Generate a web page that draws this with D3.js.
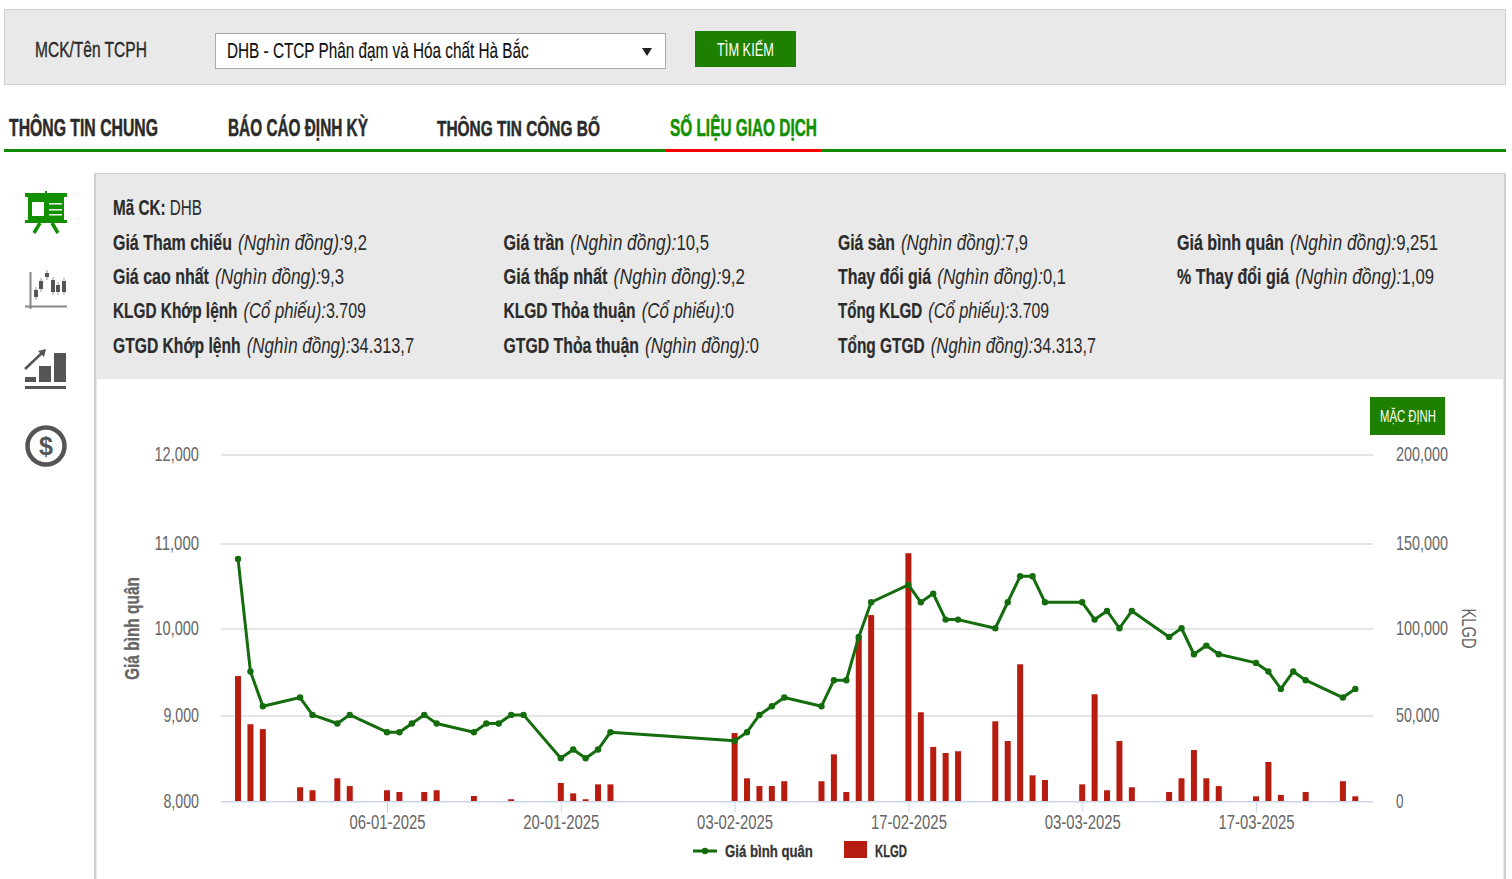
<!DOCTYPE html>
<html>
<head>
<meta charset="utf-8">
<title>DHB</title>
<script src="https://cdn.jsdelivr.net/npm/d3@7"></script>
<style>
  html, body { margin: 0; padding: 0; background: #fff; overflow: hidden; }
  svg { display: block; }
  text { font-family: "Liberation Sans Narrow", "Liberation Sans", Roboto, sans-serif; }
</style>
</head>
<body>
<svg id="page" width="1512" height="879"></svg>
<script>
const dates = [
  "25-12-2024","26-12-2024","27-12-2024","30-12-2024","31-12-2024","02-01-2025","03-01-2025",
  "06-01-2025","07-01-2025","08-01-2025","09-01-2025","10-01-2025","13-01-2025","14-01-2025",
  "15-01-2025","16-01-2025","17-01-2025","20-01-2025","21-01-2025","22-01-2025","23-01-2025",
  "24-01-2025","03-02-2025","04-02-2025","05-02-2025","06-02-2025","07-02-2025","10-02-2025",
  "11-02-2025","12-02-2025","13-02-2025","14-02-2025","17-02-2025","18-02-2025","19-02-2025",
  "20-02-2025","21-02-2025","24-02-2025","25-02-2025","26-02-2025","27-02-2025","28-02-2025",
  "03-03-2025","04-03-2025","05-03-2025","06-03-2025","07-03-2025","10-03-2025","11-03-2025",
  "12-03-2025","13-03-2025","14-03-2025","17-03-2025","18-03-2025","19-03-2025","20-03-2025",
  "21-03-2025","24-03-2025","25-03-2025"
];
const prices = [
  10800,9500,9100,9200,9000,8900,9000,
  8800,8800,8900,9000,8900,8800,8900,
  8900,9000,9000,8500,8600,8500,8600,
  8800,8700,8800,9000,9100,9200,9100,
  9400,9400,9900,10300,10500,10300,10400,
  10100,10100,10000,10300,10600,10600,10300,
  10300,10100,10200,10000,10200,9900,10000,
  9700,9800,9700,9600,9500,9300,9500,
  9400,9200,9300
];
const volumes = [
  72400,44600,41800,8200,6500,13400,8900,
  6500,5500,0,5500,6500,3200,0,
  0,1300,0,10700,4700,1300,9900,
  9900,39500,13400,8900,8900,11700,11700,
  27200,5500,94800,107600,143300,51500,31500,
  28000,29000,46300,34900,79200,15100,12400,
  9900,61900,6500,34900,8200,5500,13400,
  29700,13400,8900,3000,22800,3800,0,
  5500,11700,3000
];
const xTicks = ["06-01-2025","20-01-2025","03-02-2025","17-02-2025","03-03-2025","17-03-2025"];
const priceTicks = [8000,9000,10000,11000,12000];
const volumeTicks = [0,50000,100000,150000,200000];

const tabs = ["THÔNG TIN CHUNG","BÁO CÁO ĐỊNH KỲ","THÔNG TIN CÔNG BỐ","SỐ LIỆU GIAO DỊCH"];
const infoLabels = [
  ["Giá Tham chiếu","Giá cao nhất","KLGD Khớp lệnh","GTGD Khớp lệnh"],
  ["Giá trần","Giá thấp nhất","KLGD Thỏa thuận","GTGD Thỏa thuận"],
  ["Giá sàn","Thay đổi giá","Tổng KLGD","Tổng GTGD"],
  ["Giá bình quân","% Thay đổi giá"]
];
const infoUnits = [
  ["(Nghìn đồng):","(Nghìn đồng):","(Cổ phiếu):","(Nghìn đồng):"],
  ["(Nghìn đồng):","(Nghìn đồng):","(Cổ phiếu):","(Nghìn đồng):"],
  ["(Nghìn đồng):","(Nghìn đồng):","(Cổ phiếu):","(Nghìn đồng):"],
  ["(Nghìn đồng):","(Nghìn đồng):"]
];
const infoValues = [
  ["9,2","9,3","3.709","34.313,7"],
  ["10,5","9,2","0","0"],
  ["7,9","0,1","3.709","34.313,7"],
  ["9,251","1,09"]
];

// layout
const infoX = [113,503.5,838,1177];
const infoRowY = [250,284,318,353];
const infoEnd = [[367,344,366,414],[709,745,734,759],[1028,1066,1049,1096],[1438,1434]];
const tabX = [[9,158],[228,368],[437,600],[670,817]];
const plotLeft = 221, plotRight = 1373;
const gridY = [801.7,716,629,544,455];

const green = "#1e8000", line = "#146c0c", bar = "#b71c10", ink = "#2b2b2b", axisInk = "#666";

const svg = d3.select("#page");

// squeeze a text to run from x to x2, the site font is a condensed one
function fit(sel, x, y, x2) {
  const w = sel.node().getComputedTextLength();
  sel.attr("transform", `translate(${x},${y}) scale(${(x2 - x) / w},1)`);
  return sel;
}
function label(str, x, y, x2, size, fill, weight, heavy) {
  const t = svg.append("text").text(str)
    .attr("font-size", size).attr("fill", fill).attr("font-weight", weight || "normal");
  if (heavy) t.attr("stroke", fill).attr("stroke-width", heavy);
  return fit(t, x, y, x2);
}
function box(x, y, w, h, fill, stroke) {
  return svg.append("rect").attr("x", x).attr("y", y).attr("width", w).attr("height", h)
    .attr("fill", fill).attr("stroke", stroke || "none");
}
// bold label, italic unit and value side by side, bold runs narrower than italic on the site
function infoRow(name, unit, value, x, y, x2) {
  const gap = 6;
  const parts = [
    { str: name, weight: "bold", style: "normal", rel: 0.96, heavy: 0.2 },
    { str: unit, weight: "normal", style: "italic", rel: 1.04, heavy: 0 },
    { str: value, weight: "normal", style: "normal", rel: 1, heavy: 0 }
  ];
  parts.forEach(p => {
    p.el = svg.append("text").text(p.str).attr("font-size", 22).attr("fill", ink)
      .attr("font-weight", p.weight).attr("font-style", p.style);
    if (p.heavy) p.el.attr("stroke", ink).attr("stroke-width", p.heavy);
    p.w = p.el.node().getComputedTextLength();
  });
  const k = (x2 - x - gap) / d3.sum(parts, p => p.w * p.rel);
  let cx = x;
  parts.forEach((p, i) => {
    p.el.attr("transform", `translate(${cx},${y}) scale(${k * p.rel},1)`);
    cx += p.w * p.rel * k + (i === 0 ? gap : 0);
  });
}

// search bar
box(4.5, 9.5, 1501, 75, "#e9e9e9", "#cfcfcf");
label("MCK/Tên TCPH", 35, 57, 147, 22, ink, "normal", 0.4);
box(215.5, 33.5, 450, 35, "#fff", "#aaa");
label("DHB - CTCP Phân đạm và Hóa chất Hà Bắc", 227, 58, 529, 22, "#111", "normal", 0.15);
svg.append("path").attr("d", "M642,48h10l-5,8z").attr("fill", "#222");
box(695, 31, 101, 36, green);
label("TÌM KIẾM", 717, 56, 774, 18, "#fff");

// tabs
tabs.forEach((t, i) => {
  const c = i === 3 ? "#129000" : ink;
  label(t, tabX[i][0], 136, tabX[i][1], 23, c, "bold", 0.5);
});
box(4, 149, 1502, 3, "#128a00");
box(666, 149, 155, 3, "#f00");

// info panel
box(94, 173, 1411, 706, "#e9e9e9");
box(94, 173, 1411, 1, "#d0d0d0");
box(94, 173, 2, 706, "#cfcfcf");
box(1504, 173, 2, 706, "#cfcfcf");
box(97, 379, 1406, 500, "#fff");

const maCk = svg.append("text").attr("font-size", 22).attr("fill", ink);
maCk.append("tspan").attr("font-weight", "bold").attr("stroke", ink).attr("stroke-width", 0.2).text("Mã CK: ");
maCk.append("tspan").text("DHB");
fit(maCk, 113, 215, 202);

infoLabels.forEach((col, c) => col.forEach((name, r) => {
  infoRow(name, infoUnits[c][r], infoValues[c][r], infoX[c], infoRowY[r], infoEnd[c][r]);
}));

// side icons
const icons = svg.append("g");
const i1 = icons.append("g").attr("fill", "#129000").attr("stroke", "none");
i1.append("rect").attr("x", 25).attr("y", 193).attr("width", 42).attr("height", 4);
i1.append("rect").attr("x", 45).attr("y", 191).attr("width", 2).attr("height", 3);
i1.append("rect").attr("x", 28).attr("y", 197).attr("width", 36).attr("height", 23);
i1.append("rect").attr("x", 25).attr("y", 220).attr("width", 42).attr("height", 3);
i1.append("rect").attr("x", 32).attr("y", 202).attr("width", 12).attr("height", 14).attr("fill", "#fff");
[203,209,214].forEach(y => i1.append("rect").attr("x", 49).attr("y", y).attr("width", 13).attr("height", 1.6).attr("fill", "#dff0dc"));
i1.append("path").attr("d", "M40,223L34,233M52,223L58,233").attr("stroke", "#129000").attr("stroke-width", 3.5);

const i2 = icons.append("g").attr("stroke", "#888").attr("fill", "none");
i2.append("path").attr("d", "M30.5,272V309M25,306.5H67").attr("stroke-width", 2);
[[36,287,300],[41,278,292],[47,270,280],[53,277,295],[58,282,295],[64,278,295]].forEach(c => {
  i2.append("line").attr("x1", c[0]).attr("x2", c[0]).attr("y1", c[1]).attr("y2", c[2]).attr("stroke", "#aaa").attr("stroke-width", 1.2);
  i2.append("rect").attr("x", c[0] - 2).attr("y", c[1] + 3).attr("width", 4).attr("height", Math.max(c[2] - c[1] - 6, 3))
    .attr("fill", "#555").attr("stroke", "none");
});

const i3 = icons.append("g").attr("fill", "#555");
[[25,377,11,5],[39,366,12,16],[54,353,12,29],[25,386,41,3]].forEach(b =>
  i3.append("rect").attr("x", b[0]).attr("y", b[1]).attr("width", b[2]).attr("height", b[3]));
i3.append("path").attr("d", "M25,369L43,352").attr("stroke", "#555").attr("stroke-width", 2.5);
i3.append("path").attr("d", "M46,349L38,351L44,357z");

icons.append("circle").attr("cx", 46).attr("cy", 446).attr("r", 18.5)
  .attr("fill", "none").attr("stroke", "#555").attr("stroke-width", 4.5);
icons.append("text").text("$").attr("x", 46).attr("y", 455).attr("text-anchor", "middle")
  .attr("font-size", 25).attr("font-weight", "bold").attr("fill", "#555");

// chart
const parseDate = d3.utcParse("%d-%m-%Y");
const x = d3.scaleUtc()
  .domain([parseDate("06-01-2025"), parseDate("17-03-2025")])
  .range([387, 1256]);
const yPrice = d3.scaleLinear().domain([8000,12000]).range([801.5,455]);
const yVolume = d3.scaleLinear().domain([0,200000]).range([801.5,455]);
// the grid lines snap to slightly uneven rows in the screenshot
const yGrid = d3.scaleLinear().domain(priceTicks).range(gridY);
const yGridVolume = d3.scaleLinear().domain(volumeTicks).range(gridY);

svg.append("g").selectAll("line")
  .data(priceTicks.slice(1))
  .enter().append("line")
  .attr("x1", plotLeft).attr("x2", plotRight)
  .attr("y1", d => yGrid(d)).attr("y2", d => yGrid(d))
  .attr("stroke", "#dcdcdc").attr("stroke-width", 1.6);

const xAxis = svg.append("g")
  .attr("transform", `translate(0,${gridY[0]})`)
  .call(d3.axisBottom(x)
    .tickValues(xTicks.map(parseDate))
    .tickFormat(d3.utcFormat("%d-%m-%Y"))
    .tickSize(11).tickPadding(2));
xAxis.select(".domain").remove();
xAxis.selectAll("line").attr("stroke", "#ccd6eb");
xAxis.selectAll("text").attr("font-size", 20).attr("fill", axisInk)
  .attr("font-family", "Liberation Sans Narrow").attr("dy", "0.72em")
  .each(function () {
    const t = d3.select(this);
    const w = this.getComputedTextLength();
    t.attr("text-anchor", "middle").attr("transform", `scale(${76 / w},1)`);
  });

svg.append("g").selectAll("rect")
  .data(volumes)
  .enter().append("rect")
  .attr("x", (d, i) => x(parseDate(dates[i])) - 3)
  .attr("y", d => yVolume(d))
  .attr("width", 6)
  .attr("height", d => yVolume(0) - yVolume(d))
  .attr("fill", bar);

svg.append("line").attr("x1", plotLeft).attr("x2", plotRight)
  .attr("y1", gridY[0]).attr("y2", gridY[0])
  .attr("stroke", "#ccd6eb").attr("stroke-width", 1.6);

const priceLine = d3.line()
  .x((d, i) => x(parseDate(dates[i])))
  .y(d => yPrice(d));

svg.append("path").datum(prices)
  .attr("d", priceLine)
  .attr("fill", "none").attr("stroke", line).attr("stroke-width", 3)
  .attr("stroke-linejoin", "round");

svg.append("g").selectAll("circle")
  .data(prices)
  .enter().append("circle")
  .attr("cx", (d, i) => x(parseDate(dates[i])))
  .attr("cy", d => yPrice(d))
  .attr("r", 3.2)
  .attr("fill", line);

// y tick labels
const tickFmt = d3.format(",");
const digitW = 8.9;
priceTicks.forEach(v => {
  const str = tickFmt(v);
  const t = svg.append("text").text(str).attr("font-size", 20).attr("fill", axisInk);
  fit(t, 199 - digitW * str.replace(",", "").length, yGrid(v) + 5.8, 199);
});
volumeTicks.forEach(v => {
  const str = tickFmt(v);
  const t = svg.append("text").text(str).attr("font-size", 20).attr("fill", axisInk);
  fit(t, 1396, yGridVolume(v) + 5.8, 1396 + (v === 0 ? 7.5 : digitW * 0.975 * str.replace(/,/g, "").length));
});

// axis titles
const titleL = svg.append("text").text("Giá bình quân").attr("font-size", 20)
  .attr("font-weight", "bold").attr("fill", axisInk).attr("stroke", axisInk).attr("stroke-width", 0.3)
  .attr("text-anchor", "middle");
titleL.attr("transform", `translate(139,628.5) rotate(-90) scale(${103 / titleL.node().getComputedTextLength()},1)`);
const titleR = svg.append("text").text("KLGD").attr("font-size", 21)
  .attr("fill", axisInk).attr("text-anchor", "middle");
titleR.attr("transform", `translate(1462,628.5) rotate(90) scale(${40 / titleR.node().getComputedTextLength()},1)`);

// legend
svg.append("line").attr("x1", 693).attr("x2", 717).attr("y1", 851).attr("y2", 851)
  .attr("stroke", line).attr("stroke-width", 3);
svg.append("circle").attr("cx", 705).attr("cy", 851).attr("r", 3.2).attr("fill", line);
label("Giá bình quân", 725, 857, 813, 17, "#333", "bold", 0.3);
box(844, 841, 23, 17, bar);
label("KLGD", 875, 857, 907, 17, "#333", "bold", 0.3);

// reset button
box(1370, 397, 75, 38, green);
label("MẶC ĐỊNH", 1380, 422, 1436, 17, "#fff");
</script>
</body>
</html>
